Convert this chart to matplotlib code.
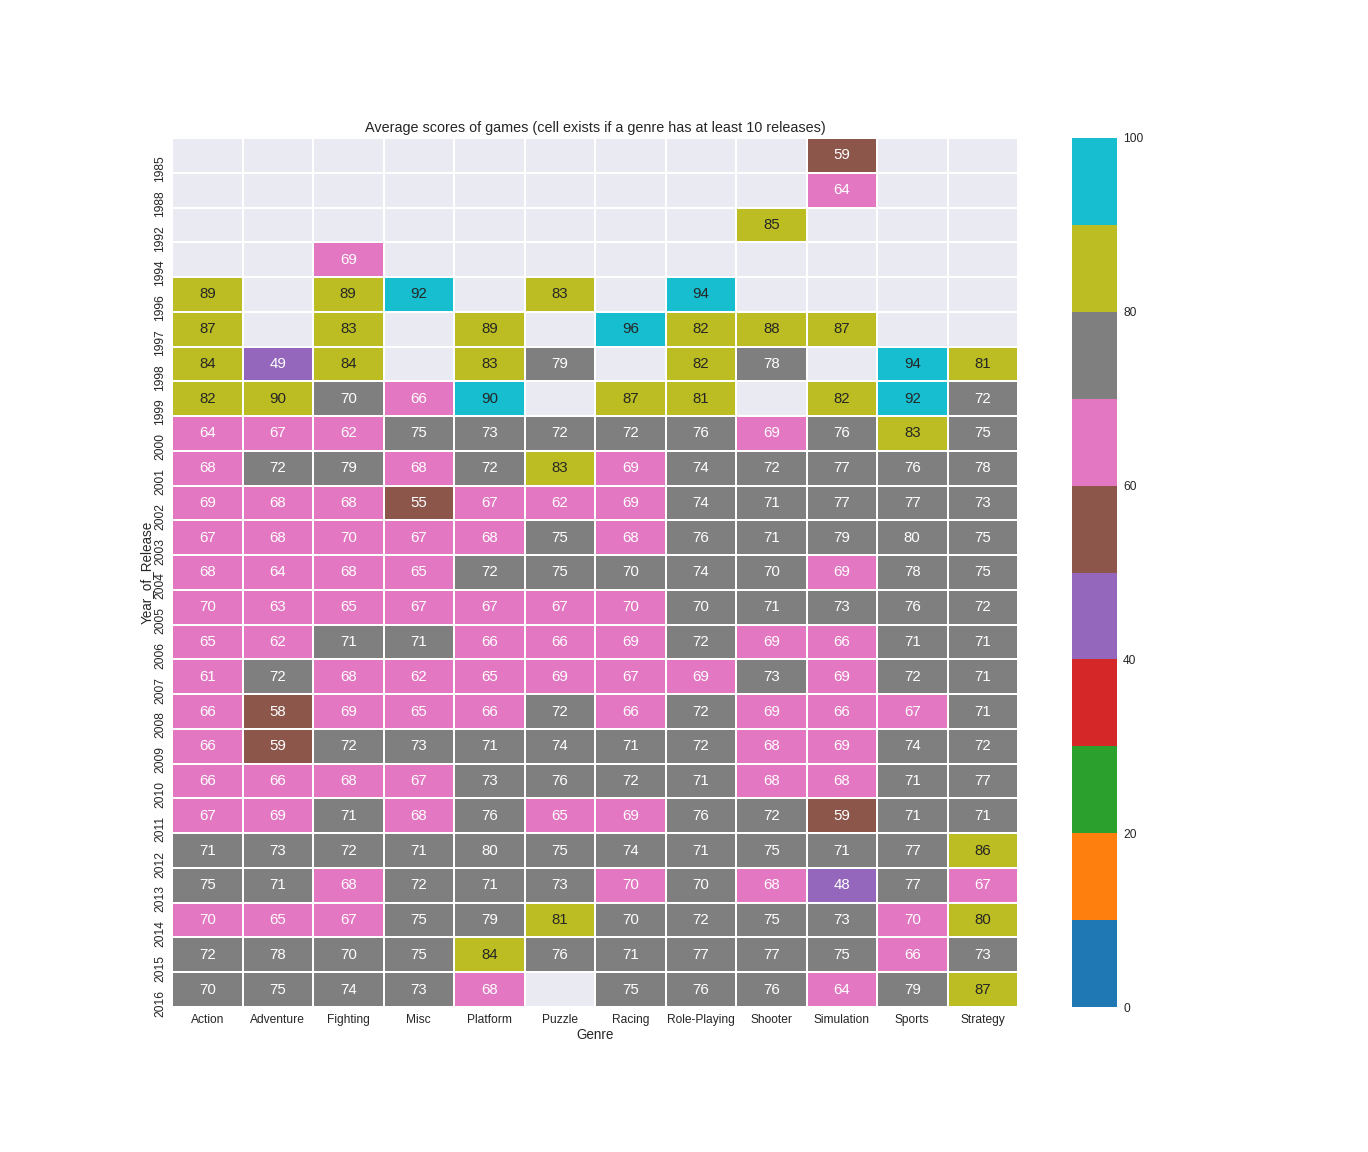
import numpy as np
import pandas as pd
import matplotlib
matplotlib.use('Agg')
import matplotlib.pyplot as plt
import seaborn as sns

nan = np.nan

genres = ['Action', 'Adventure', 'Fighting', 'Misc', 'Platform', 'Puzzle',
          'Racing', 'Role-Playing', 'Shooter', 'Simulation', 'Sports', 'Strategy']
years = [1985, 1988, 1992, 1994, 1996, 1997, 1998, 1999] + list(range(2000, 2017))

# average score per year (rows) and genre (columns); NaN = fewer than 10 releases
scores = [
    [nan, nan, nan, nan, nan, nan, nan, nan, nan, 59, nan, nan],
    [nan, nan, nan, nan, nan, nan, nan, nan, nan, 64, nan, nan],
    [nan, nan, nan, nan, nan, nan, nan, nan, 85, nan, nan, nan],
    [nan, nan, 69, nan, nan, nan, nan, nan, nan, nan, nan, nan],
    [89, nan, 89, 92, nan, 83, nan, 94, nan, nan, nan, nan],
    [87, nan, 83, nan, 89, nan, 96, 82, 88, 87, nan, nan],
    [84, 49, 84, nan, 83, 79, nan, 82, 78, nan, 94, 81],
    [82, 89.7, 70.2, 66, 90.3, nan, 87, 81, nan, 82, 92, 72],
    [64, 67, 62, 75, 73, 72, 72, 76, 69, 76, 83, 75],
    [68, 72, 79, 68, 72, 83, 69, 74, 72, 77, 76, 78],
    [69, 68, 68, 55, 67, 62, 69, 74, 71, 77, 77, 73],
    [67, 68, 69.8, 67, 68, 75, 68, 76, 71, 79, 79.6, 75],
    [68, 64, 68, 65, 72, 75, 70.2, 74, 70.2, 69, 78, 75],
    [69.8, 63, 65, 67, 67, 67, 69.8, 70.2, 71, 73, 76, 72],
    [65, 62, 71, 71, 66, 66, 69, 72, 69, 66, 71, 71],
    [61, 72, 68, 62, 65, 69, 67, 69, 73, 69, 72, 71],
    [66, 58, 69, 65, 66, 72, 66, 72, 69, 66, 67, 71],
    [66, 59, 72, 73, 71, 74, 71, 72, 68, 69, 74, 72],
    [66, 66, 68, 67, 73, 76, 72, 71, 68, 68, 71, 77],
    [67, 69, 71, 68, 76, 65, 69, 76, 72, 59, 71, 71],
    [71, 73, 72, 71, 79.6, 75, 74, 71, 75, 71, 77, 86],
    [75, 71, 68, 72, 71, 73, 69.8, 70.2, 68, 48, 77, 67],
    [69.8, 65, 67, 75, 79, 81, 70.2, 72, 75, 73, 69.8, 80.3],
    [72, 78, 70.2, 75, 84, 76, 71, 77, 77, 75, 66, 73],
    [70.2, 75, 74, 73, 68, nan, 75, 76, 76, 64, 79, 87],
]

df = pd.DataFrame(scores, index=years, columns=genres)
df.index.name = 'Year_of_Release'
df.columns.name = 'Genre'

sns.set()
plt.rcParams['font.family'] = ['Liberation Sans', 'DejaVu Sans']

fig = plt.figure(figsize=(19, 16), dpi=72)
ax = fig.add_axes([172 / 1368, 145 / 1152, 846 / 1368, 869 / 1152])
cax = fig.add_axes([1072 / 1368, 145 / 1152, 45 / 1368, 869 / 1152])

sns.heatmap(df, ax=ax, cbar_ax=cax, cmap='tab10', vmin=0, vmax=100,
            annot=True, fmt='.0f', linewidths=1.5, linecolor='white',
            annot_kws={'fontsize': 15})
ax.grid(False)

ax.set_title('Average scores of games (cell exists if a genre has at least 10 releases)',
             fontsize=14.4, pad=6)
ax.set_xlabel('Genre', fontsize=13.5, labelpad=2)
ax.set_ylabel('Year_of_Release', fontsize=13.5, labelpad=0)
ax.tick_params(axis='x', labelsize=12, rotation=0, length=0, pad=7)
ax.tick_params(axis='y', labelsize=12, length=0, pad=6)
for t in ax.get_yticklabels():
    t.set_rotation(90)
    t.set_va('top')

cax.set_yticks([0, 20, 40, 60, 80, 100])
cax.tick_params(labelsize=12, length=0, pad=6)
cax.grid(False)

fig.savefig('out.png', dpi=72)
